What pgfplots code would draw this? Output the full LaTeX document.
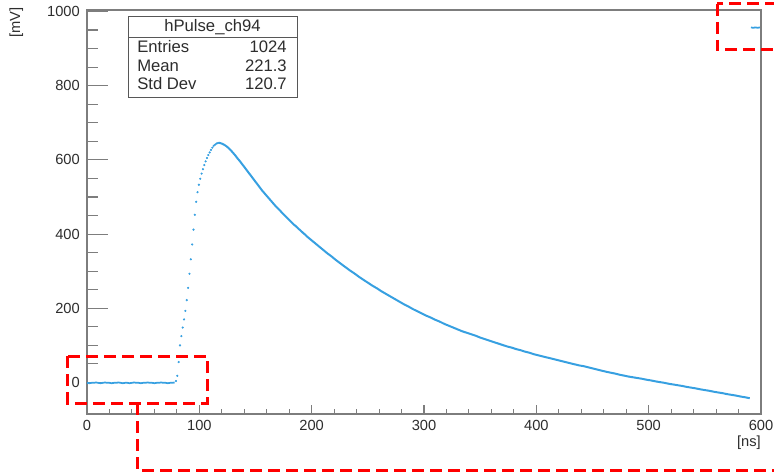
\documentclass[border=0pt]{standalone}
\usepackage{fontspec}
\setmainfont{Liberation Sans}
\usepackage{pgfplots}
\pgfplotsset{compat=1.18}

\definecolor{pulse}{RGB}{55,160,225}
\definecolor{framegray}{RGB}{125,125,125}
\definecolor{txt}{RGB}{45,45,45}
\definecolor{hl}{RGB}{255,0,0}

% baseline before the pulse
\pgfplotstableread{
t v
0 -1
2 -2
4 -1
6 -1
8 0
10 -1
12 -2
14 -1
16 0
18 -1
20 -1
22 -2
24 -1
26 -1
28 0
30 -1
32 -2
34 -1
36 -1
38 -2
40 -1
42 0
44 -1
46 -1
48 -2
50 -1
52 -1
54 0
56 -1
58 -1
60 -2
62 -1
64 -1
66 0
68 -1
70 -1
72 -2
74 -1
76 -1
78 0
}\baseline

% leading edge
\pgfplotstableread{
t v
79.2 4
80.4 18
81.6 55
82.8 100
84.0 125
85.2 148
86.4 170
87.6 193
88.8 222
90.0 255
91.2 293
92.4 332
93.6 372
94.8 412
96.0 452
97.2 487
98.4 513
99.6 533
100.8 549
102.0 563
103.2 575
104.4 586
105.6 596
106.8 605
108.0 613
109.2 620
110.4 627
111.6 633
112.8 638
114.0 641
115.2 644
116.4 645
117.6 646
}\rise

% tail
\pgfplotstableread{
t v
117.6 646
120 644
122 641
124 637
126 632
128 626
130 619
132 612
134 604
136 597
138 589
140 581
142 573
144 565
146 557
148 549
150 541
152 533
154 525
156 517
158 510
160 503
162 496
164 489
166 482
168 475
170 469
172 463
174 456
176 450
178 444
180 438
182 432
184 426
186 421
188 415
190 410
192 404
194 399
196 393
198 388
200 383
202 378
204 373
206 368
210 358
214 348
218 339
222 329
226 320
230 311
234 302
238 294
242 285
246 277
250 269
254 261
258 254
262 246
266 239
270 232
274 225
278 218
282 211
286 205
290 198
294 192
298 186
302 180
306 175
310 169
314 164
318 158
322 153
326 148
330 143
334 138
338 134
342 130
346 126
350 121
354 117
358 113
362 109
366 105
370 101
374 97
378 94
382 90
386 87
390 83
394 80
398 76
402 73
406 70
410 67
414 64
418 61
422 58
426 55
430 52
434 49
438 46
442 44
446 41
450 38
454 35
458 32
462 29
466 26.5
470 24
474 21
478 18.5
482 16
486 14
490 12
494 10
498 7.5
502 5.5
506 3
510 1
514 -1
518 -3.5
522 -5.5
526 -7.5
530 -9.5
534 -12
538 -14
542 -16
546 -18.5
550 -20.5
554 -22.5
558 -25
562 -27
566 -29
570 -31.5
574 -33.5
578 -35.5
582 -38
586 -40
590 -42.5
}\tail

% last bins
\pgfplotstableread{
t v
591 957
593 956
595 957
597 956
599 957
}\lastbins

\begin{document}
\begin{tikzpicture}
\useasboundingbox (-65.25pt,-45.75pt) rectangle (515.25pt,310.5pt);
\clip (-65.25pt,-45.75pt) rectangle (515.25pt,310.5pt);

\begin{axis}[
  at={(0pt,0pt)}, anchor=south west,
  scale only axis, width=505.5pt, height=303pt,
  xmin=0, xmax=600, ymin=-85, ymax=1004,
  axis line style={framegray, line width=0.9pt},
  tick pos=left, tick align=inside,
  xtick={0,100,...,600}, ytick={0,200,...,1000},
  minor x tick num=4, minor y tick num=3,
  every tick/.style={framegray, line width=0.8pt},
  xtick style={/pgfplots/major tick length=6.75pt, /pgfplots/minor tick length=3.75pt},
  ytick style={/pgfplots/major tick length=15.5pt, /pgfplots/minor tick length=8pt},
  /pgf/number format/assume math mode=true,
  /pgf/number format/1000 sep={},
  ticklabel style={font=\fontsize{11}{13}\selectfont, text=txt},
  yticklabel style={inner sep=0pt, xshift=-5.25pt},
  xticklabel style={inner sep=0pt, yshift=-4.5pt},
  xlabel={[ns]}, ylabel={[mV]},
  label style={font=\fontsize{11}{13}\selectfont, text=txt},
  xlabel style={at={(axis description cs:1,-0.072)}, anchor=east, inner sep=0pt},
  ylabel style={at={(axis description cs:-0.105,1.007)}, anchor=east, inner sep=0pt},
]
\addplot[pulse, line width=1.3pt] table[x=t, y=v] {\baseline};
\addplot[pulse, only marks, mark=*, mark size=0.6pt] table[x=t, y=v] {\rise};
\addplot[pulse, line width=1.5pt] table[x=t, y=v] {\tail};
\addplot[pulse, line width=1.3pt] table[x=t, y=v] {\lastbins};
\end{axis}

\begin{scope}[x=0.75pt, y=-0.75pt, shift={(-65.25pt,310.5pt)}]
  % statistics box
  \draw[fill=white, draw=txt!80, line width=0.6pt] (128,16) rectangle (297,97);
  \draw[txt!80, line width=0.6pt] (128,37) -- (297,37);
  \begin{scope}[every node/.style={font=\fontsize{12.5}{14}\selectfont, text=txt, inner sep=0pt}]
    \node at (212.5,27) {hPulse\_ch94};
    \node[anchor=west] at (137,47) {Entries};
    \node[anchor=east] at (287,47) {1024};
    \node[anchor=west] at (137,66) {Mean};
    \node[anchor=east] at (287,66) {221.3};
    \node[anchor=west] at (137,84) {Std Dev};
    \node[anchor=east] at (287,84) {120.7};
  \end{scope}
  % highlighted regions
  \begin{scope}[hl, line width=2.25pt, dash pattern=on 9pt off 4.5pt]
    \draw (68,356) rectangle (207,403);
    \draw (137,403) -- (137,470) -- (790,470);
    \draw (717,4) rectangle (800,50);
  \end{scope}
\end{scope}
\end{tikzpicture}
\end{document}
